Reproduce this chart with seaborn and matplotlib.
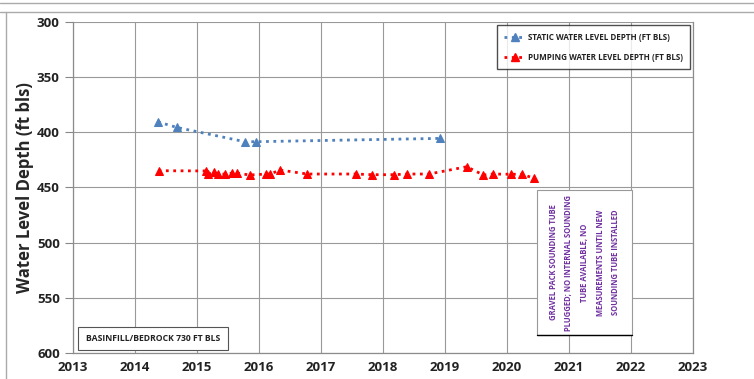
# water level depth chart - static vs pumping

import pandas as pd
import matplotlib.pyplot as plt
import seaborn as sns
from matplotlib.patches import Rectangle
from matplotlib.lines import Line2D
from matplotlib.ticker import MultipleLocator

sns.set_style("whitegrid")
plt.rcParams["font.family"] = ["Open Sans", "DejaVu Sans"]

# --------------------------------------------------
# data (decimal year, depth ft bls)
# --------------------------------------------------
static_year = [2014.37, 2014.67, 2015.77, 2015.95, 2018.92]
static_depth = [390.5, 395.5, 408.5, 408.5, 405.5]

pumping_year = [2014.38, 2015.15, 2015.18, 2015.27, 2015.34, 2015.45, 2015.56,
                2015.65, 2015.85, 2016.12, 2016.18, 2016.34, 2016.78, 2017.56,
                2017.83, 2018.17, 2018.39, 2018.74, 2019.35, 2019.62, 2019.77,
                2020.06, 2020.24, 2020.44]
pumping_depth = [434.8, 435.0, 437.8, 436.3, 437.8, 437.8, 437.0, 437.0, 438.7,
                 437.8, 437.8, 434.2, 437.8, 437.8, 438.4, 438.4, 437.8, 437.8,
                 431.2, 438.7, 437.8, 438.0, 438.0, 441.7]

year_ticks = list(range(2013, 2024))
depth_ticks = [300, 350, 400, 450, 500, 550, 600]

static = pd.DataFrame({"year": static_year, "depth": static_depth})
pumping = pd.DataFrame({"year": pumping_year, "depth": pumping_depth})

blue = "#4F81BD"
red = "#FF0000"
purple = "#7030A0"

fig = plt.figure(figsize=(7.54, 3.79), dpi=100)
ax = fig.add_axes([0.0968, 0.0686, 0.8223, 0.8734])

sns.lineplot(x="year", y="depth", data=static, ax=ax, color=blue,
             marker="^", markersize=5.5, markeredgecolor=blue,
             linestyle=":", linewidth=2, sort=False)
sns.lineplot(x="year", y="depth", data=pumping, ax=ax, color=red,
             marker="^", markersize=5.5, markeredgecolor=red,
             linestyle=":", linewidth=2, sort=False)

ax.set_xlim(2013, 2023)
ax.set_ylim(600, 300)
ax.set_xticks(year_ticks)
ax.set_xticklabels([str(y) for y in year_ticks], fontweight="bold",
                   fontsize=9.5, color="#222222")
ax.set_yticks(depth_ticks)
ax.set_yticklabels([str(d) for d in depth_ticks], fontweight="bold",
                   fontsize=9.5, color="#222222")
ax.xaxis.set_minor_locator(MultipleLocator(0.25))
ax.tick_params(axis="x", which="minor", direction="in", length=4, color="#888888")
ax.tick_params(axis="x", which="major", direction="in", length=4, color="#888888", pad=6)
ax.tick_params(axis="y", which="major", direction="out", length=6, color="#888888", left=True)

ax.grid(True, which="major", color="#999999", linewidth=0.8)
ax.grid(False, which="minor")
for side in ["left", "bottom", "right"]:
    ax.spines[side].set_color("#8c8c8c")
    ax.spines[side].set_linewidth(0.9)
ax.spines["top"].set_visible(False)

ax.set_xlabel("")
ax.set_ylabel("Water Level Depth (ft bls)", fontsize=12, fontweight="bold", labelpad=2)

# legend
handles = [
    Line2D([], [], color=blue, linestyle=":", linewidth=2, marker="^",
           markersize=5.5, markeredgecolor=blue),
    Line2D([], [], color=red, linestyle=":", linewidth=2, marker="^",
           markersize=5.5, markeredgecolor=red),
]
leg = ax.legend(handles, ["STATIC WATER LEVEL DEPTH (FT BLS)",
                          "PUMPING WATER LEVEL DEPTH (FT BLS)"],
                loc="upper right", bbox_to_anchor=(0.995, 0.99),
                borderaxespad=0, frameon=True, fancybox=False,
                prop={"size": 5.8, "weight": "bold"}, handlelength=2.6,
                labelspacing=1.4, borderpad=0.9, handletextpad=0.3)
leg.get_frame().set_edgecolor("#222222")
leg.get_frame().set_linewidth(1.0)
for t in leg.get_texts():
    t.set_color("#222222")

# annotation box
ax.add_patch(Rectangle((2020.48, 452.3), 1.54, 131.5, facecolor="white",
                       edgecolor="#999999", linewidth=0.8, zorder=3))
ax.plot([2020.48, 2022.02], [583.8, 583.8], color="black", linewidth=1, zorder=4)
ax.text(2021.25, 518, "GRAVEL PACK SOUNDING TUBE\nPLUGGED; NO INTERNAL SOUNDING\n"
        "TUBE AVAILABLE, NO\nMEASUREMENTS UNTIL NEW\nSOUNDING TUBE INSTALLED",
        rotation=90, ha="center", va="center", color=purple, fontsize=5.5,
        fontweight="bold", linespacing=1.95, zorder=5)

# bottom-left box
ax.add_patch(Rectangle((2013.08, 576.5), 2.42, 20.9, facecolor="white",
                       edgecolor="#555555", linewidth=0.8, zorder=3))
ax.text(2014.29, 587, "BASINFILL/BEDROCK 730 FT BLS", ha="center", va="center",
        fontsize=6.2, fontweight="bold", color="#222222", zorder=5)

# outer frame lines
fig.add_artist(Line2D([0, 1], [1 - 3 / 379, 1 - 3 / 379], color="#aaaaaa", linewidth=1))
fig.add_artist(Line2D([0, 1], [1 - 12 / 379, 1 - 12 / 379], color="#aaaaaa", linewidth=1))
fig.add_artist(Line2D([6 / 754, 6 / 754], [0, 1 - 12 / 379], color="#aaaaaa", linewidth=1))

plt.savefig("out.png", dpi=100)
